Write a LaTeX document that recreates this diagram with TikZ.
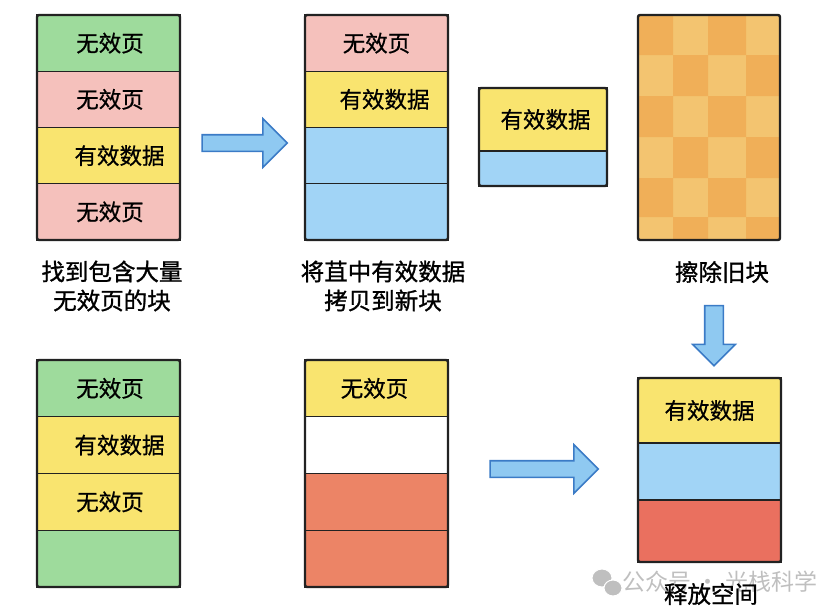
\documentclass[tikz,border=0pt]{standalone}
\usepackage{fontspec}
\setmainfont{Noto Sans CJK SC}[FakeBold=0.7]
\newfontfamily\capfont{Noto Sans CJK SC}[FakeBold=1.1]
\newfontfamily\markfont{Noto Sans CJK SC}
\usepackage{xcolor}
\usetikzlibrary{positioning,shapes.arrows}
\definecolor{pagegreen}{HTML}{9EDB9C}
\definecolor{pagepink}{HTML}{F5C1BC}
\definecolor{pageyellow}{HTML}{F9E46F}
\definecolor{pageblue}{HTML}{A1D4F6}
\definecolor{pagesalmon}{HTML}{EC8466}
\definecolor{pagered}{HTML}{EA705F}
\definecolor{chkdark}{HTML}{F0AF58}
\definecolor{chklight}{HTML}{F3C470}
\definecolor{arrfill}{HTML}{8FC9F1}
\definecolor{arredge}{HTML}{3B7BC6}
\definecolor{inkdark}{HTML}{222222}

\begin{document}
\begin{tikzpicture}[x=1pt,y=-1pt,font=\fontsize{22.5}{28}\selectfont,
  cell/.style={draw=inkdark,line width=1.4pt,minimum width=143pt,inner sep=0pt,outer sep=0pt,anchor=north west},
  blockedge/.style={draw=inkdark,line width=2.4pt,rounded corners=2pt},
  bigarrow/.style={single arrow,draw=arredge,fill=arrfill,line width=1.6pt,inner sep=7.5pt,single arrow head extend=16pt,minimum height=85pt,outer sep=0pt},
  caption/.style={align=center,font=\capfont\fontsize{23.5}{29}\selectfont}]
\useasboundingbox (0,0) rectangle (836,616);
% first block: many invalid pages
\node[cell,fill=pagegreen,minimum height=56.25pt] (a1) at (37,15) {};
\node[cell,fill=pagepink,minimum height=56.25pt,below=0pt of a1] (a2) {};
\node[cell,fill=pageyellow,minimum height=56.25pt,below=0pt of a2] (a3) {};
\node[cell,fill=pagepink,minimum height=56.25pt,below=0pt of a3] (a4) {};
\draw[blockedge] (a1.north west) rectangle (a4.south east);
\node at ([xshift=1.5pt]a1.center) {无效页};
\node at ([xshift=1.5pt]a2.center) {无效页};
\node at ([xshift=11pt]a3.center) {有效数据};
\node at ([xshift=1.5pt]a4.center) {无效页};
\node[caption] (cap1) at (112,286) {找到包含大量\\无效页的块};
\node[bigarrow] (arr1) at (240.5,143) {};
% second block: copy valid data
\node[cell,fill=pagepink,minimum height=56.25pt] (b1) at (305,15) {};
\node[cell,fill=pageyellow,minimum height=56.25pt,below=0pt of b1] (b2) {};
\node[cell,fill=pageblue,minimum height=56.25pt,below=0pt of b2] (b3) {};
\node[cell,fill=pageblue,minimum height=56.25pt,below=0pt of b3] (b4) {};
\draw[blockedge] (b1.north west) rectangle (b4.south east);
\node at (b1.center) {无效页};
\node at ([xshift=8pt]b2.center) {有效数据};
\node[caption] (cap2) at (383,286) {将苴中有效数据\\拷贝到新块};
% new block
\node[cell,fill=pageyellow,minimum width=128pt,minimum height=63pt] (n1) at (479,88) {};
\node[cell,fill=pageblue,minimum width=128pt,minimum height=35pt,below=0pt of n1] (n2) {};
\draw[blockedge] (n1.north west) rectangle (n2.south east);
\node at ([xshift=2.5pt]n1.center) {有效数据};
% erased old block
\fill[chklight] (638,15) rectangle (780,240);
\fill[chkdark] (638,15) rectangle (673,55) (708,15) rectangle (746,55)
  (673,55) rectangle (708,96) (746,55) rectangle (780,96)
  (638,96) rectangle (673,137) (708,96) rectangle (746,137)
  (673,137) rectangle (708,178) (746,137) rectangle (780,178)
  (638,178) rectangle (673,217) (708,178) rectangle (746,217)
  (673,217) rectangle (708,240) (746,217) rectangle (780,240);
\node[cell,minimum width=142pt,minimum height=225pt,draw=none] (old) at (638,15) {};
\draw[blockedge] (old.north west) rectangle (old.south east);
\node[caption] (cap3) at (722,272) {擦除旧块};
\node[bigarrow,shape border rotate=270,minimum height=60pt,inner sep=8.5pt,single arrow head extend=12pt] (arr3) at (714,331) {};
% bottom row
\node[cell,fill=pagegreen,minimum height=56.75pt] (c1) at (37,360) {};
\node[cell,fill=pageyellow,minimum height=56.75pt,below=0pt of c1] (c2) {};
\node[cell,fill=pageyellow,minimum height=56.75pt,below=0pt of c2] (c3) {};
\node[cell,fill=pagegreen,minimum height=56.75pt,below=0pt of c3] (c4) {};
\draw[blockedge] (c1.north west) rectangle (c4.south east);
\node at ([xshift=1.5pt]c1.center) {无效页};
\node at ([xshift=11pt]c2.center) {有效数据};
\node at ([xshift=1.5pt]c3.center) {无效页};
\node[cell,fill=pageyellow,minimum height=56.75pt] (d1) at (305,360) {};
\node[cell,fill=white,minimum height=56.75pt,below=0pt of d1] (d2) {};
\node[cell,fill=pagesalmon,minimum height=56.75pt,below=0pt of d2] (d3) {};
\node[cell,fill=pagesalmon,minimum height=56.75pt,below=0pt of d3] (d4) {};
\draw[blockedge] (d1.north west) rectangle (d4.south east);
\node at ([xshift=-2pt]d1.center) {无效页};
\node[bigarrow,minimum height=108pt] (arr2) at (540,469) {};
\node[cell,fill=pageyellow,minimum height=65pt] (e1) at (638,378) {};
\node[cell,fill=pageblue,minimum height=57pt,below=0pt of e1] (e2) {};
\node[cell,fill=pagered,minimum height=62pt,below=0pt of e2] (e3) {};
\draw[blockedge] (e1.north west) rectangle (e3.south east);
\node at (e1.center) {有效数据};
% watermark
\fill[black!25,draw=white,line width=1pt] (602,578) ellipse (10 and 9);
\fill[black!25,draw=white,line width=1pt] (613,588) ellipse (9 and 8);
\node[text=black!25,font=\markfont\fontsize{23}{23}\selectfont] (mark) at (720,582) {公众号 · 光栈科学};
\node[caption] (cap4) at (711,594) {释放空间};
\end{tikzpicture}
\end{document}
